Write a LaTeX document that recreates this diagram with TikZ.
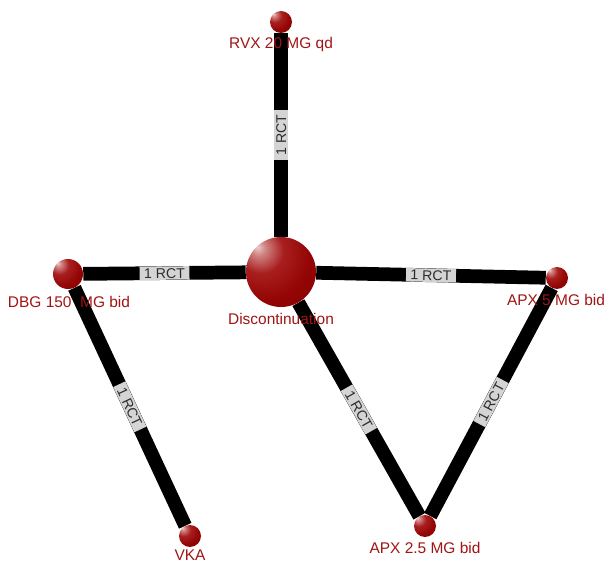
\documentclass[tikz,border=0pt]{standalone}
\usepackage{fontspec}
\setmainfont{Liberation Sans}
\usetikzlibrary{backgrounds}
\definecolor{lblred}{RGB}{160,20,20}
\definecolor{rctgrey}{RGB}{212,212,212}
\definecolor{rcttext}{RGB}{45,45,45}
\pgfdeclareradialshading{redsphere}{\pgfpoint{-17bp}{18bp}}{%
  rgb(0bp)=(0.93,0.80,0.80);
  rgb(5bp)=(0.82,0.52,0.52);
  rgb(16bp)=(0.66,0.12,0.12);
  rgb(32bp)=(0.58,0.02,0.02);
  rgb(52bp)=(0.52,0.0,0.0);
  rgb(66bp)=(0.40,0.0,0.0);
  rgb(100bp)=(0.40,0.0,0.0)}
\begin{document}
\begin{tikzpicture}[x=0.75pt,y=-0.75pt,
  ball/.style={circle, shading=redsphere, inner sep=0pt},
  lbl/.style={text=lblred, font=\fontsize{11.6pt}{13pt}\selectfont, anchor=base, inner sep=0pt},
  link/.style={line width=10.3pt, black},
  rct/.style={fill=rctgrey, text=rcttext, font=\fontsize{10.6pt}{12pt}\selectfont, inner xsep=3.4pt, inner ysep=1.2pt, text height=7.6pt, text depth=0pt, sloped}]
\useasboundingbox (0,0) rectangle (608,563);
\node[ball, minimum size=16.5pt] (rvx) at (281,22) {};
\node[ball, minimum size=52.5pt] (disc) at (281,272) {};
\node[ball, minimum size=22.5pt] (dbg) at (68,274) {};
\node[ball, minimum size=16.5pt] (apx5) at (557,278) {};
\node[ball, minimum size=16.5pt] (apx25) at (425,526) {};
\node[ball, minimum size=16.5pt] (vka) at (190,536) {};
\node[lbl] (rvxl) at (281,49) {RVX 20 MG qd};
\node[lbl] (discl) at (281,325) {Discontinuation};
\node[lbl] (dbgl) at (69,308) {DBG 150\ \ MG bid};
\node[lbl] (apx5l) at (556,306) {APX 5 MG bid};
\node[lbl] (apx25l) at (425,553) {APX 2.5 MG bid};
\node[lbl] (vkal) at (190,561) {VKA};
\begin{pgfonlayer}{background}
\draw[link] (disc) -- node[rct]{1 RCT} (rvx);
\draw[link] (dbg) -- node[rct]{1 RCT} (disc);
\draw[link] (disc) -- node[rct]{1 RCT} (apx5);
\draw[link] (disc) -- node[rct]{1 RCT} (apx25);
\draw[link] (apx25) -- node[rct]{1 RCT} (apx5);
\draw[link] (dbg) -- node[rct]{1 RCT} (vka);
\end{pgfonlayer}
\end{tikzpicture}
\end{document}
